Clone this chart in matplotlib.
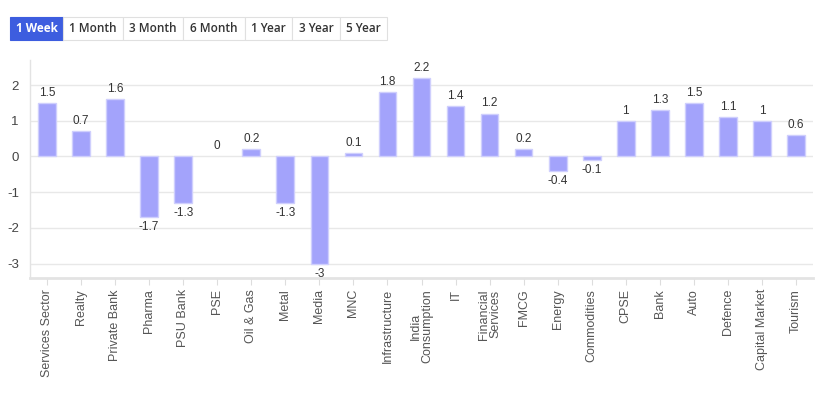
import matplotlib
matplotlib.use("Agg")
import matplotlib.pyplot as plt
from matplotlib.patches import Rectangle

categories = ["Services Sector", "Realty", "Private Bank", "Pharma", "PSU Bank", "PSE",
              "Oil & Gas", "Metal", "Media", "MNC", "Infrastructure", "India\nConsumption",
              "IT", "Financial\nServices", "FMCG", "Energy", "Commodities", "CPSE", "Bank",
              "Auto", "Defence", "Capital Market", "Tourism"]
values = [1.5, 0.7, 1.6, -1.7, -1.3, 0, 0.2, -1.3, -3, 0.1, 1.8, 2.2, 1.4, 1.2, 0.2,
          -0.4, -0.1, 1, 1.3, 1.5, 1.1, 1, 0.6]
yticks = [-3, -2, -1, 0, 1, 2]
buttons = ["1 Week", "1 Month", "3 Month", "6 Month", "1 Year", "3 Year", "5 Year"]
button_edges = [10, 63, 123, 183, 245, 292, 340, 387]

W, H = 831, 395
fig = plt.figure(figsize=(W / 100, H / 100), dpi=100)
fig.patch.set_facecolor("white")

ax = fig.add_axes([30 / W, 1 - 278 / H, (813 - 30) / W, (278 - 60) / H])
x = list(range(len(categories)))
edges = ["#cfcffd" if v != 0 else "none" for v in values]
ax.bar(x, values, width=0.52, color="#a3a3fb", edgecolor=edges, linewidth=1.0, zorder=3)
ax.set_xlim(-0.5, len(categories) - 0.5)
ax.set_ylim(-3.4, 2.7)
ax.set_yticks(yticks)
ax.set_yticklabels([str(v) for v in yticks], fontsize=9.5, color="#444444", family="Liberation Sans")
ax.set_xticks(x)
ax.set_xticklabels(categories, rotation=90, fontsize=9, color="#555555",
                   family="Liberation Sans", linespacing=1.0)
ax.tick_params(axis="y", length=0, pad=8)
ax.tick_params(axis="x", length=5, color="#dddddd", pad=3)
ax.grid(axis="y", color="#e8e8e8", linewidth=1, zorder=0)
for s in ["top", "right"]:
    ax.spines[s].set_visible(False)
ax.spines["left"].set_color("#e3e3e3")
ax.spines["bottom"].set_color("#e3e3e3")
ax.spines["bottom"].set_linewidth(2)
ax.spines["left"].set_linewidth(1)

for xi, v in zip(x, values):
    if v >= 0:
        ax.annotate(f"{v:g}", (xi, v), xytext=(0, 3), textcoords="offset points",
                    ha="center", va="bottom", fontsize=8.5, color="#333333", family="Liberation Sans")
    else:
        ax.annotate(f"{v:g}", (xi, v), xytext=(0, -3), textcoords="offset points",
                    ha="center", va="top", fontsize=8.5, color="#333333", family="Liberation Sans")

# button bar
top, bot = 17, 40
for i, label in enumerate(buttons):
    x0, x1 = button_edges[i], button_edges[i + 1]
    sel = i == 0
    r = Rectangle((x0 / W, 1 - bot / H), (x1 - x0) / W, (bot - top) / H,
                  transform=fig.transFigure, facecolor="#3d5ddf" if sel else "white",
                  edgecolor="#3d5ddf" if sel else "#e0e0e0", linewidth=0.8)
    fig.add_artist(r)
    fig.text((x0 + x1) / 2 / W, 1 - (top + bot) / 2 / H, label, ha="center", va="center",
             fontsize=8.5, fontweight="bold" if sel else "semibold",
             color="white" if sel else "#333333", family="Open Sans")

fig.savefig("out.png", dpi=100)
